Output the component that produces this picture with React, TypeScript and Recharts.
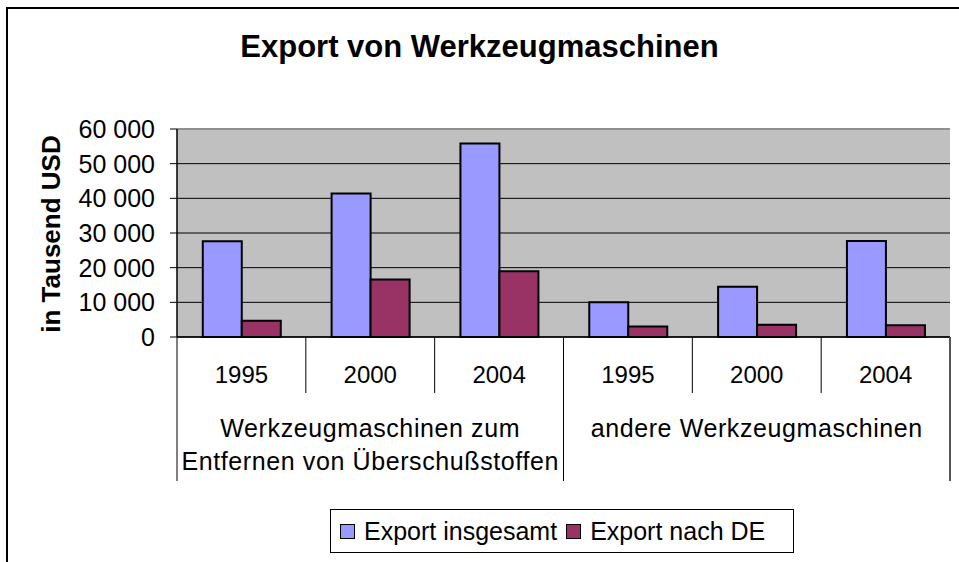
import { Bar, BarChart, CartesianGrid, Legend, ReferenceLine, XAxis, YAxis } from 'recharts';

const groups = ['Werkzeugmaschinen zum\nEntfernen von Überschußstoffen', 'andere Werkzeugmaschinen'];
const years = ['1995', '2000', '2004'];
const exportTotal = [27600, 41400, 55800, 10000, 14500, 27700];
const exportDE = [4700, 16600, 19000, 3000, 3500, 3400];
const yTicks = [0, 10000, 20000, 30000, 40000, 50000, 60000];
const seriesNames = ['Export insgesamt', 'Export nach DE'];

const data = exportTotal.map((total, i) => ({
  key: `${i}`,
  year: years[i % years.length],
  group: groups[Math.floor(i / years.length)],
  total,
  de: exportDE[i],
}));

const W = 959;
const H = 562;
const PLOT_LEFT = 177;
const PLOT_RIGHT = 950;
const BAND = (PLOT_RIGHT - PLOT_LEFT) / data.length;
const FONT = '"Liberation Sans", Arial, sans-serif';
const BLUE = '#9999FF';
const MAROON = '#993366';

const fmt = (v: number) => String(v).replace(/\B(?=(\d{3})+(?!\d))/g, ' ');

function CategoryTick(props: any) {
  const { x, y, index } = props;
  const row = data[index];
  const isGroupStart = index % years.length === 0;
  const isGroupMid = index % years.length === 1;
  const isLast = index === data.length - 1;
  return (
    <g>
      <line
        x1={x - BAND / 2}
        x2={x - BAND / 2}
        y1={y}
        y2={y + (isGroupStart ? 144 : 56)}
        stroke="#000"
        strokeWidth={1}
      />
      {isLast && (
        <line x1={x + BAND / 2} x2={x + BAND / 2} y1={y} y2={y + 144} stroke="#555" strokeWidth={2} />
      )}
      <text x={x} y={y + 46} textAnchor="middle" fontSize={24} fontFamily={FONT} fill="#000">
        {row.year}
      </text>
      {isGroupMid &&
        row.group.split('\n').map((line, k) => (
          <text
            key={k}
            x={x}
            y={y + 100 + k * 33}
            textAnchor="middle"
            fontSize={25}
            letterSpacing={0.6}
            fontFamily={FONT}
            fill="#000"
          >
            {line}
          </text>
        ))}
    </g>
  );
}

function YLabel(props: any) {
  const cx = 60;
  const cy = 234;
  return (
    <text
      x={cx}
      y={cy}
      textAnchor="middle"
      transform={`rotate(-90, ${cx}, ${cy})`}
      fontSize={26}
      fontWeight="bold"
      fontFamily={FONT}
      fill="#000"
    >
      in Tausend USD
    </text>
  );
}

function LegendBox() {
  const colors = [BLUE, MAROON];
  return (
    <div
      style={{
        boxSizing: 'border-box',
        width: 464,
        height: 44,
        border: '1.5px solid #000',
        background: '#fff',
        display: 'flex',
        alignItems: 'center',
        paddingLeft: 9,
        fontFamily: FONT,
        fontSize: 25,
        color: '#000',
        whiteSpace: 'nowrap',
      }}
    >
      {seriesNames.map((name, i) => (
        <span key={name} style={{ display: 'flex', alignItems: 'center', marginRight: 9 }}>
          <span
            style={{
              display: 'inline-block',
              width: 13,
              height: 13,
              background: colors[i],
              border: '1.5px solid #000',
              marginRight: 9,
            }}
          />
          {name}
        </span>
      ))}
    </div>
  );
}

export default function App() {
  return (
    <div style={{ position: 'absolute', left: 0, top: 0, width: W, height: H, overflow: 'hidden', background: '#fff' }}>
      <div
        style={{
          position: 'absolute',
          left: 6,
          top: 7,
          width: 1000,
          height: 700,
          border: '2px solid #000',
          boxSizing: 'border-box',
        }}
      />
      <div
        style={{
          position: 'absolute',
          left: 0,
          top: 31,
          width: W,
          textAlign: 'center',
          fontFamily: FONT,
          fontWeight: 'bold',
          fontSize: 31,
          lineHeight: 1,
          color: '#000',
        }}
      >
        Export von Werkzeugmaschinen
      </div>
      <div style={{ position: 'absolute', left: 0, top: 0 }}>
        <BarChart
          width={W}
          height={H}
          data={data}
          margin={{ top: 129, right: W - PLOT_RIGHT, bottom: 75, left: 0 }}
          barCategoryGap="20%"
          barGap={0}
        >
          <CartesianGrid vertical={false} stroke="#000" fill="#C0C0C0" fillOpacity={1} />
          <XAxis
            dataKey="key"
            height={150}
            axisLine={{ stroke: '#000', strokeWidth: 1.5 }}
            tickLine={false}
            tickSize={0}
            tickMargin={0}
            interval={0}
            tick={<CategoryTick />}
          />
          <YAxis
            width={PLOT_LEFT}
            domain={[0, 60000]}
            ticks={yTicks}
            interval={0}
            tickFormatter={fmt}
            tickSize={7}
            tickMargin={15}
            axisLine={{ stroke: '#000', strokeWidth: 1.5 }}
            tickLine={{ stroke: '#000' }}
            tick={{ fill: '#000', fontSize: 25, fontFamily: FONT }}
            label={{ content: <YLabel /> }}
          />
          <YAxis
            yAxisId="r"
            orientation="right"
            width={0}
            domain={[0, 60000]}
            tick={false}
            tickLine={false}
            axisLine={{ stroke: '#808080', strokeWidth: 2 }}
          />
          <ReferenceLine y={60000} stroke="#909090" strokeWidth={2} />
          <Bar dataKey="total" name={seriesNames[0]} fill={BLUE} stroke="#000" strokeWidth={2} isAnimationActive={false} />
          <Bar dataKey="de" name={seriesNames[1]} fill={MAROON} stroke="#000" strokeWidth={2} isAnimationActive={false} />
          <Legend
            layout="horizontal"
            verticalAlign="middle"
            align="center"
            content={<LegendBox />}
            wrapperStyle={{ left: 330, top: 509, right: 'auto', bottom: 'auto', width: 464, height: 44 }}
          />
        </BarChart>
      </div>
    </div>
  );
}
